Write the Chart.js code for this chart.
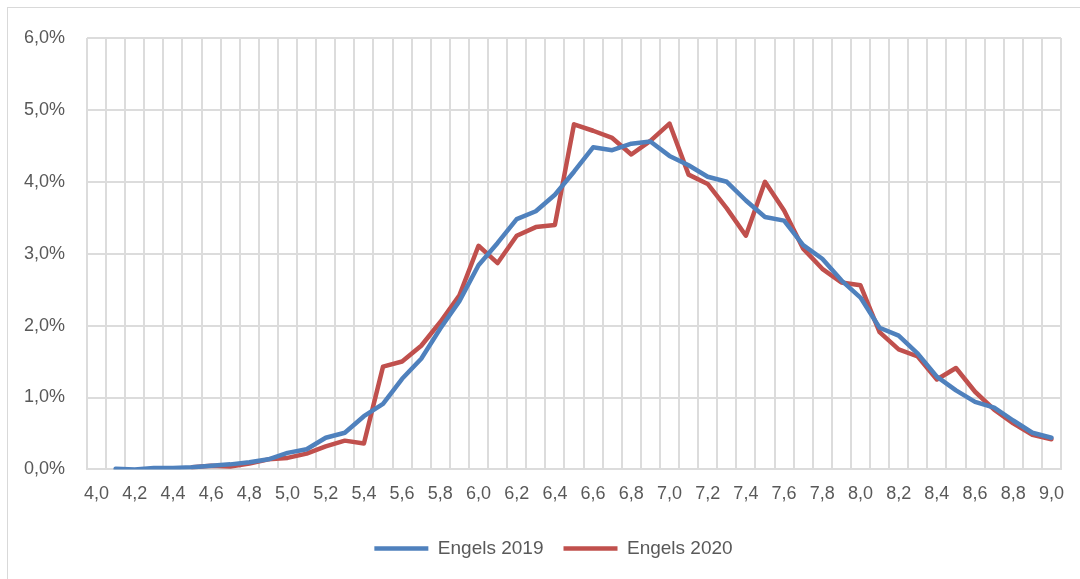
<!DOCTYPE html>
<html>
<head>
<meta charset="utf-8">
<script src="https://cdn.jsdelivr.net/npm/chart.js@4.4.1/dist/chart.umd.min.js"></script>
<style>
    html, body { margin: 0; padding: 0; background: #fff; overflow: hidden; }
    #wrap { position: relative; width: 1080px; height: 579px; }
    #frame { position: absolute; left: 7px; top: 7px; width: 1100px; height: 600px; border: 1px solid #d9d9d9; }
    canvas { position: absolute; left: 0; top: 0; }
</style>
</head>
<body>
<div id="wrap">
    <div id="frame"></div>
    <canvas id="grafiek" width="1080" height="579"></canvas>
</div>
<script>
// Cijfers 4,0 t/m 9,0 (stappen van 0,1)
const cijfers = ['4,0','4,1','4,2','4,3','4,4','4,5','4,6','4,7','4,8','4,9',
                 '5,0','5,1','5,2','5,3','5,4','5,5','5,6','5,7','5,8','5,9',
                 '6,0','6,1','6,2','6,3','6,4','6,5','6,6','6,7','6,8','6,9',
                 '7,0','7,1','7,2','7,3','7,4','7,5','7,6','7,7','7,8','7,9',
                 '8,0','8,1','8,2','8,3','8,4','8,5','8,6','8,7','8,8','8,9',
                 '9,0'];

// Percentage leerlingen per cijfer
const engels2019 = [null, 0.01, 0.00, 0.02, 0.02, 0.03, 0.05, 0.07, 0.10, 0.14,
                    0.23, 0.28, 0.44, 0.51, 0.74, 0.91, 1.26, 1.54, 1.96, 2.34,
                    2.84, 3.15, 3.48, 3.59, 3.82, 4.14, 4.48, 4.44, 4.53, 4.56,
                    4.36, 4.23, 4.07, 4.00, 3.74, 3.51, 3.46, 3.12, 2.93, 2.63,
                    2.39, 1.97, 1.86, 1.61, 1.29, 1.10, 0.94, 0.86, 0.68, 0.51,
                    0.44];

const engels2020 = [null, null, null, null, null, 0.03, 0.05, 0.04, 0.08, 0.14,
                    0.16, 0.22, 0.32, 0.40, 0.36, 1.43, 1.50, 1.72, 2.05, 2.42,
                    3.11, 2.87, 3.25, 3.37, 3.40, 4.80, 4.71, 4.61, 4.38, 4.57,
                    4.81, 4.10, 3.97, 3.63, 3.25, 4.00, 3.60, 3.07, 2.79, 2.60,
                    2.56, 1.91, 1.67, 1.57, 1.25, 1.41, 1.08, 0.83, 0.64, 0.48,
                    0.42];

const yMin = 0;
const yMax = 6;
const yStap = 1;

const tekstKleur = '#595959';
const rasterKleur = '#dcdcdc';
const lettertype = "'Liberation Sans', 'DejaVu Sans', sans-serif";

function percentLabel(v) {
    return v.toFixed(1).replace('.', ',') + '%';
}

// Legenda iets naar rechts schuiven
const legendaVerschuiving = {
    id: 'legendaVerschuiving',
    afterLayout: function (chart) {
        chart.legend.left += 19;
        chart.legend.right += 19;
    }
};

new Chart(document.getElementById('grafiek'), {
    type: 'line',
    data: {
        labels: cijfers,
        datasets: [{
            label: 'Engels 2019',
            data: engels2019,
            borderColor: '#4f81bd',
            backgroundColor: '#4f81bd',
            borderWidth: 4.5,
            pointRadius: 0,
            tension: 0,
            borderJoinStyle: 'round',
            borderCapStyle: 'round'
        }, {
            label: 'Engels 2020',
            data: engels2020,
            borderColor: '#c0504d',
            backgroundColor: '#c0504d',
            borderWidth: 4.5,
            pointRadius: 0,
            tension: 0,
            borderJoinStyle: 'round',
            borderCapStyle: 'round'
        }]
    },
    options: {
        responsive: false,
        animation: false,
        layout: {
            padding: { left: 8, top: 38, right: 19, bottom: 11 }
        },
        plugins: {
            tooltip: { enabled: false },
            legend: {
                position: 'bottom',
                labels: {
                    usePointStyle: true,
                    pointStyle: 'line',
                    pointStyleWidth: 54,
                    boxHeight: 19,
                    padding: 20,
                    color: tekstKleur,
                    font: { family: lettertype, size: 19 }
                }
            }
        },
        scales: {
            x: {
                offset: true,
                grid: {
                    offset: true,
                    color: rasterKleur,
                    lineWidth: 2,
                    drawTicks: false
                },
                border: { color: rasterKleur, width: 2 },
                ticks: {
                    autoSkip: false,
                    maxRotation: 0,
                    padding: 14,
                    color: tekstKleur,
                    font: { family: lettertype, size: 18 },
                    callback: function (value, index) {
                        return index % 2 === 0 ? cijfers[index] : '';
                    }
                }
            },
            y: {
                min: yMin,
                max: yMax,
                grid: {
                    color: rasterKleur,
                    lineWidth: 2,
                    drawTicks: false
                },
                border: { display: false },
                ticks: {
                    stepSize: yStap,
                    padding: 22,
                    color: tekstKleur,
                    font: { family: lettertype, size: 18 },
                    callback: function (value) {
                        return percentLabel(value);
                    }
                },
                afterFit: function (scale) {
                    scale.width = 79;
                }
            }
        }
    },
    plugins: [legendaVerschuiving]
});
</script>
</body>
</html>
